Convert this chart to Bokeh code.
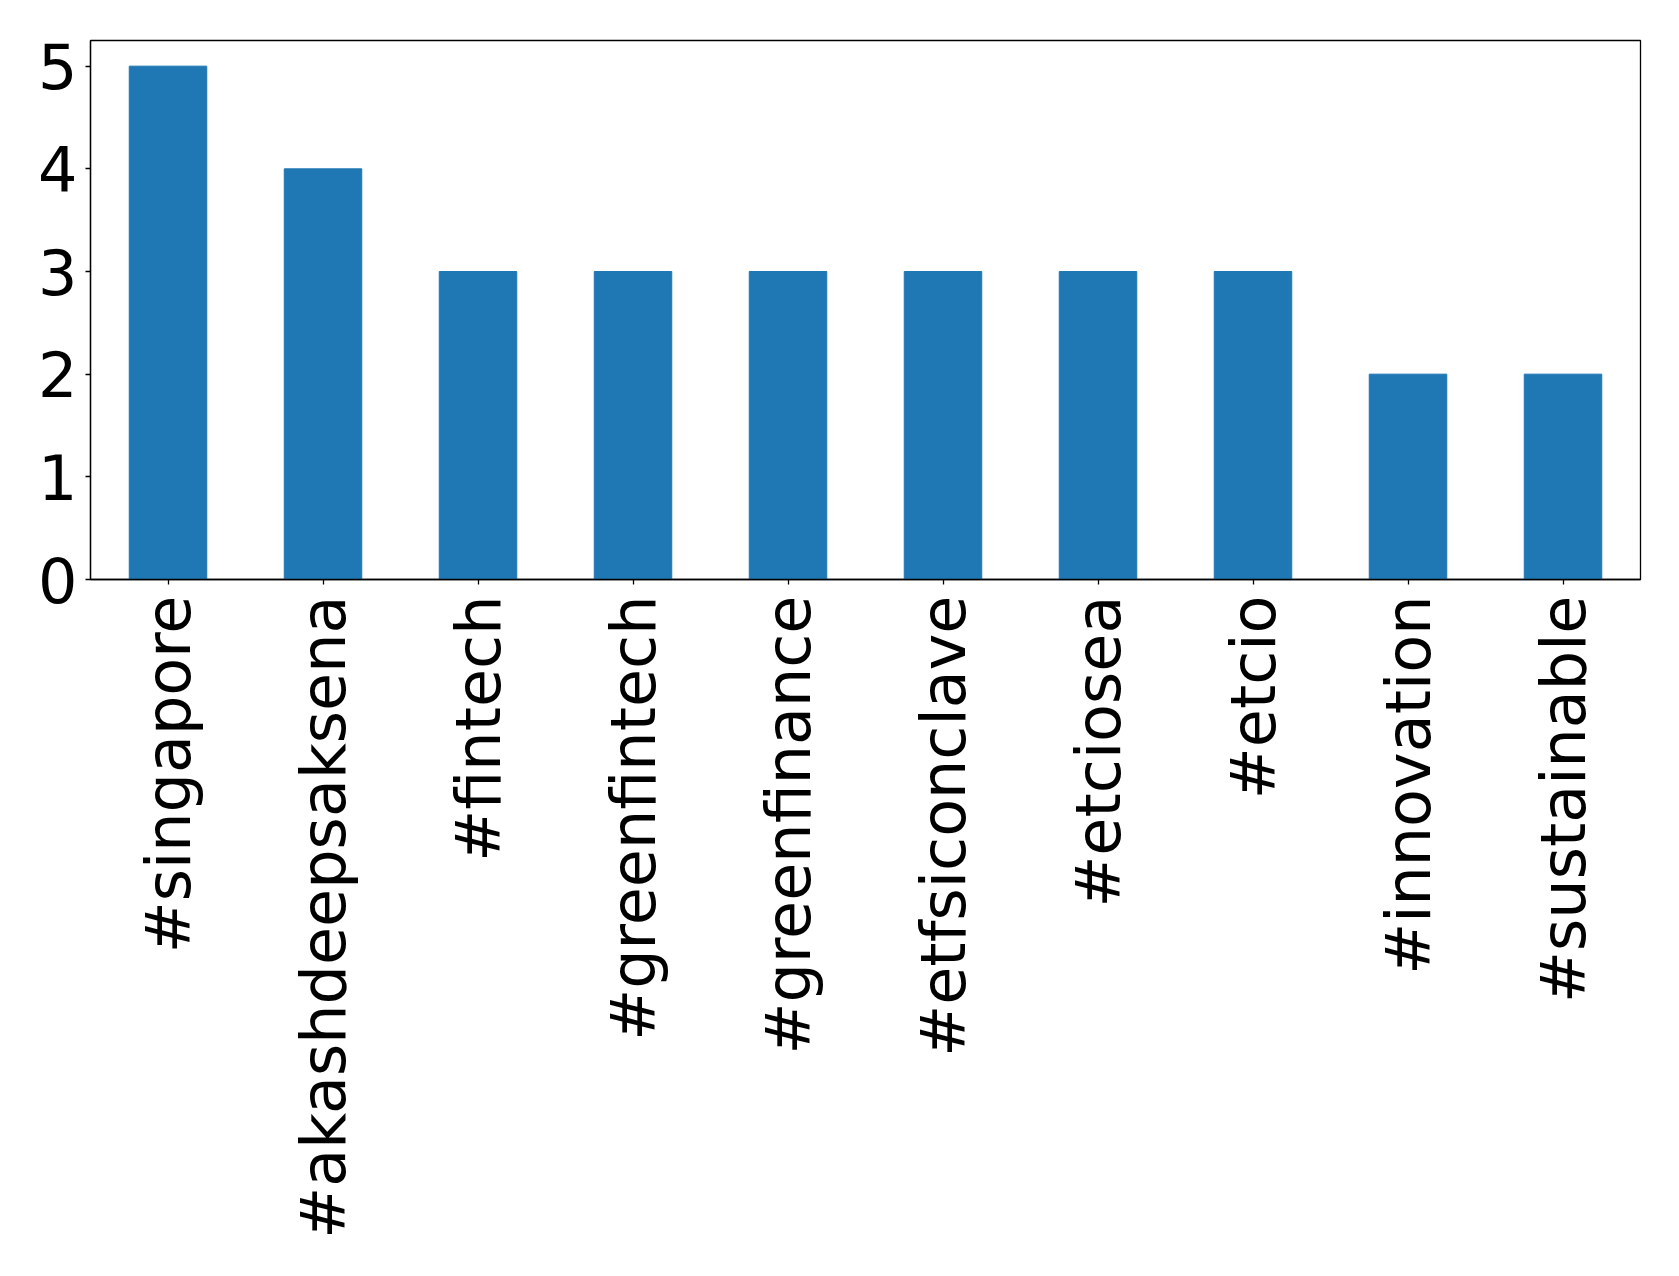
import math
from bokeh.plotting import figure
from bokeh.models import Range1d, FixedTicker
from bokeh.embed import file_html
from bokeh.resources import INLINE

categories = ["#singapore", "#akashdeepsaksena", "#fintech", "#greenfintech", "#greenfinance",
              "#etfsiconclave", "#etciosea", "#etcio", "#innovation", "#sustainable"]
counts = [5, 4, 3, 3, 3, 3, 3, 3, 2, 2]
y_ticks = [0, 1, 2, 3, 4, 5]

xs = list(range(len(categories)))

p = figure(frame_width=1550, frame_height=539, output_backend="svg", toolbar_location=None,
           x_range=Range1d(-0.5, len(categories) - 0.5), y_range=Range1d(0, 5.25),
           min_border_left=90, min_border_top=40, min_border_right=31, min_border_bottom=600)
p.vbar(x=xs, top=counts, width=0.5, bottom=0, color="#1f77b4")

p.xgrid.grid_line_color = None
p.ygrid.grid_line_color = None
p.outline_line_color = "black"
p.outline_line_width = 1.3

p.xaxis.ticker = FixedTicker(ticks=xs)
p.xaxis.major_label_overrides = {i: c for i, c in enumerate(categories)}
p.xaxis.major_label_orientation = math.pi / 2
p.yaxis.ticker = FixedTicker(ticks=y_ticks)

for ax in (p.xaxis[0], p.yaxis[0]):
    ax.major_label_text_font = "DejaVu Sans"
    ax.major_label_text_font_size = "62px"
    ax.major_label_text_color = "black"
    ax.axis_line_color = "black"
    ax.axis_line_width = 1.3
    ax.major_tick_line_color = "black"
    ax.major_tick_line_width = 1.3
    ax.major_tick_in = 0
    ax.major_tick_out = 5
    ax.minor_tick_line_color = None
p.xaxis.major_label_standoff = 11
p.yaxis.major_label_standoff = 8

open("out.html", "w").write(file_html(p, INLINE))
